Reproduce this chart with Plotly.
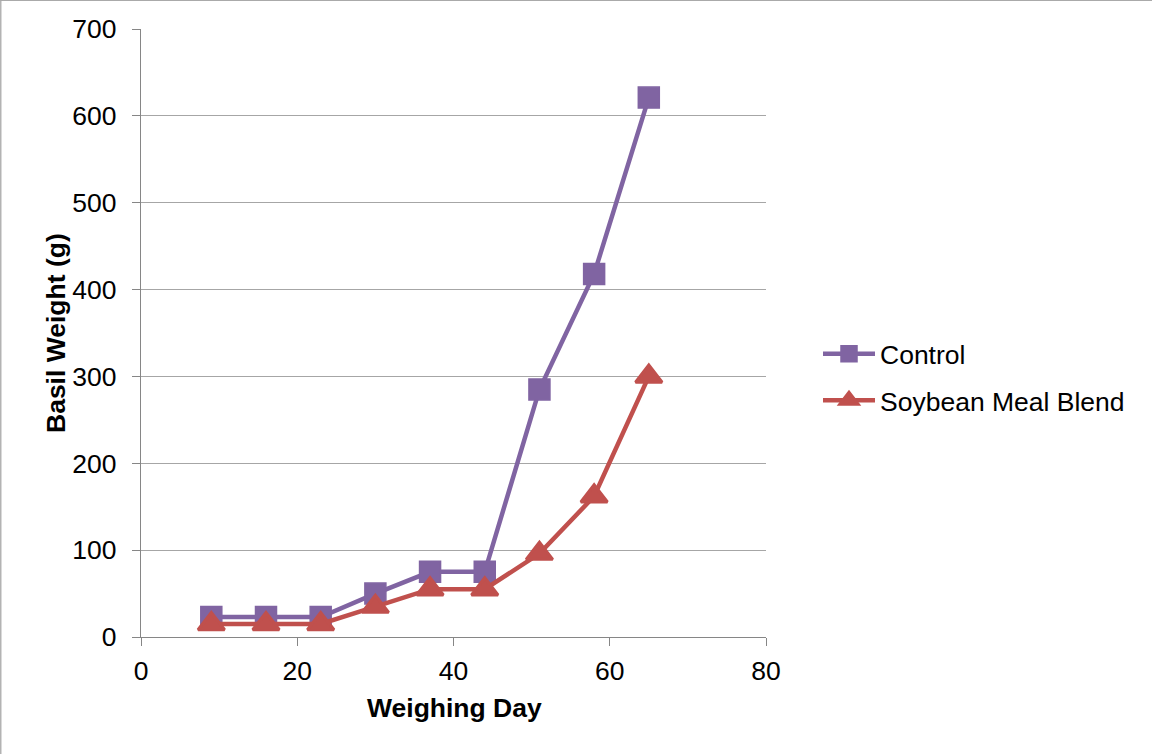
import plotly.graph_objects as go

# Weighing days and basil weights (g) for each treatment
days = [9, 16, 23, 30, 37, 44, 51, 58, 65]
control = [23, 23, 23, 50, 75, 75, 285, 418, 621]
soybean = [15, 15, 15, 35, 55, 55, 96, 162, 300]

series_names = ["Control", "Soybean Meal Blend"]
x_ticks = [0, 20, 40, 60, 80]
y_ticks = [0, 100, 200, 300, 400, 500, 600, 700]

W, H = 1152, 754
ML, MR, MT, MB = 141, 386, 29, 117
PW, PH = W - ML - MR, H - MT - MB

PURPLE = "#8064A2"
RED = "#C0504D"
FONT = "Liberation Sans, Arial, sans-serif"
FS = 26.5

fig = go.Figure()
fig.add_trace(go.Scatter(
    x=days, y=control, name=series_names[0], mode="lines+markers",
    line=dict(color=PURPLE, width=4.5),
    marker=dict(symbol="square", size=21, color=PURPLE,
                line=dict(color=PURPLE, width=1.5)),
    legendgroup="a",
))
fig.add_trace(go.Scatter(
    x=days, y=soybean, name=series_names[1], mode="lines+markers",
    line=dict(color=RED, width=4.5),
    marker=dict(symbol="triangle-up", size=23, color=RED,
                line=dict(color=RED, width=3)),
    legendgroup="b",
))

axis_common = dict(
    showline=True, linecolor="#868686", linewidth=1.3,
    ticks="outside", ticklen=8, tickcolor="#868686", tickwidth=1.3,
    tickfont=dict(family=FONT, size=FS, color="#000000"),
    zeroline=False,
)

fig.update_xaxes(
    range=[0, 80], tickvals=x_ticks, showgrid=False,
    ticklabelstandoff=2, **axis_common,
)
fig.update_yaxes(
    range=[0, 700], tickvals=y_ticks, showgrid=True,
    gridcolor="#A6A6A6", gridwidth=1.3, ticklabelstandoff=10,
    **axis_common,
)

# Outer frame edges (left and top)
x_left = -ML / PW
x_right = (PW + MR) / PW
y_top = (PH + MT) / PH
y_bottom = -MB / PH
fig.add_shape(type="line", xref="paper", yref="paper",
              x0=x_left, x1=x_left, y0=y_bottom, y1=y_top,
              line=dict(color="#B3B3B3", width=3))
fig.add_shape(type="line", xref="paper", yref="paper",
              x0=x_left, x1=x_right, y0=y_top, y1=y_top,
              line=dict(color="#AAAAAA", width=2))

fig.add_annotation(
    text="<b>Weighing Day</b>", xref="paper", yref="paper",
    x=(454 - ML) / PW, y=-(708 - MT - PH) / PH,
    xanchor="center", yanchor="middle", showarrow=False,
    font=dict(family=FONT, size=FS, color="#000000"),
)
fig.add_annotation(
    text="<b>Basil Weight (g)</b>", xref="paper", yref="paper",
    x=(56 - ML) / PW, y=(MT + PH - 333) / PH,
    xanchor="center", yanchor="middle", textangle=-90, showarrow=False,
    font=dict(family=FONT, size=FS, color="#000000"),
)

fig.update_layout(
    width=W, height=H,
    margin=dict(l=ML, r=MR, t=MT, b=MB),
    paper_bgcolor="white", plot_bgcolor="white",
    showlegend=True,
    legend=dict(
        x=(818 - ML) / PW, y=(MT + PH - 377) / PH,
        xanchor="left", yanchor="middle",
        font=dict(family=FONT, size=FS, color="#000000"),
        tracegroupgap=9, itemwidth=52,
        bgcolor="rgba(0,0,0,0)",
    ),
)

fig.write_html("out.html")
